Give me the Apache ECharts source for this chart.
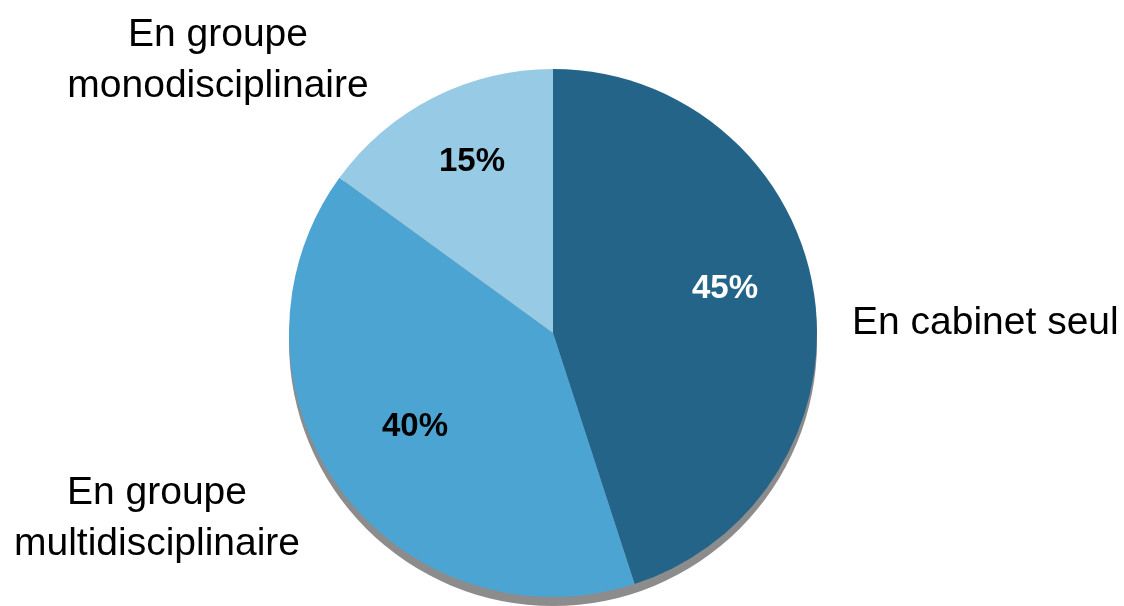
<!DOCTYPE html>
<html>
<head>
<meta charset="utf-8">
<script src="https://cdn.jsdelivr.net/npm/echarts@6/dist/echarts.min.js"></script>
<style>
  html, body { margin: 0; padding: 0; background: #ffffff; }
  #chart { width: 1124px; height: 606px; }
</style>
</head>
<body>
<div id="chart"></div>
<script>
// Répartition des modes d'exercice
const categories = ['En cabinet seul', 'En groupe multidisciplinaire', 'En groupe monodisciplinaire'];
const nameLabels = ['En cabinet seul', 'En groupe\nmultidisciplinaire', 'En groupe\nmonodisciplinaire'];
const shares = [45, 40, 15];

const sliceColors = ['#236488', '#4ca4d3', '#97cae5'];
const pctColors = ['#ffffff', '#000000', '#000000'];

// Label anchor points (pixels) for the percentage and category texts
const pctPos = [[725, 289], [415, 427], [472, 162]];
const namePos = [
  { x: 852, y: 323, align: 'left' },
  { x: 157, y: 519, align: 'center' },
  { x: 218, y: 61, align: 'center' }
];

const CENTER = [553, 333];
const RADIUS = 264;

const sliceData = categories.map((c, i) => ({
  name: c,
  value: shares[i],
  itemStyle: { color: sliceColors[i] },
  label: { color: pctColors[i] }
}));

const chart = echarts.init(document.getElementById('chart'), null, { renderer: 'canvas' });
chart.setOption({
  animation: false,
  backgroundColor: '#ffffff',
  series: [
    {
      // grey drop shadow under the disc
      type: 'pie',
      silent: true,
      center: [CENTER[0], CENTER[1] + 9],
      radius: RADIUS,
      startAngle: 90,
      label: { show: false },
      labelLine: { show: false },
      itemStyle: { color: '#8c8c8c', borderWidth: 0 },
      data: [{ name: 'ombre', value: 1 }],
      z: 1
    },
    {
      type: 'pie',
      center: CENTER,
      radius: RADIUS,
      startAngle: 90,
      clockwise: true,
      itemStyle: { borderWidth: 0 },
      label: {
        show: true,
        position: 'inside',
        formatter: '{c}%',
        fontFamily: '"Liberation Sans", Arial, sans-serif',
        fontWeight: 'bold',
        fontSize: 33
      },
      labelLine: { show: false },
      labelLayout: function (p) {
        const pos = pctPos[p.dataIndex];
        return { x: pos[0], y: pos[1], align: 'center', verticalAlign: 'middle' };
      },
      emphasis: { disabled: true },
      data: sliceData,
      z: 2
    },
    {
      // category names placed around the disc
      type: 'pie',
      silent: true,
      center: CENTER,
      radius: RADIUS,
      startAngle: 90,
      itemStyle: { color: 'rgba(0,0,0,0)', borderWidth: 0 },
      label: {
        show: true,
        position: 'inside',
        overflow: 'none',
        formatter: function (p) { return nameLabels[p.dataIndex]; },
        fontFamily: '"Liberation Sans", Arial, sans-serif',
        fontSize: 39,
        lineHeight: 51,
        color: '#000000'
      },
      labelLine: { show: false },
      labelLayout: function (p) {
        const pos = namePos[p.dataIndex];
        return { x: pos.x, y: pos.y, align: pos.align, verticalAlign: 'middle' };
      },
      emphasis: { disabled: true },
      data: categories.map((c, i) => ({ name: c, value: shares[i] })),
      z: 3
    }
  ]
});
</script>
</body>
</html>
